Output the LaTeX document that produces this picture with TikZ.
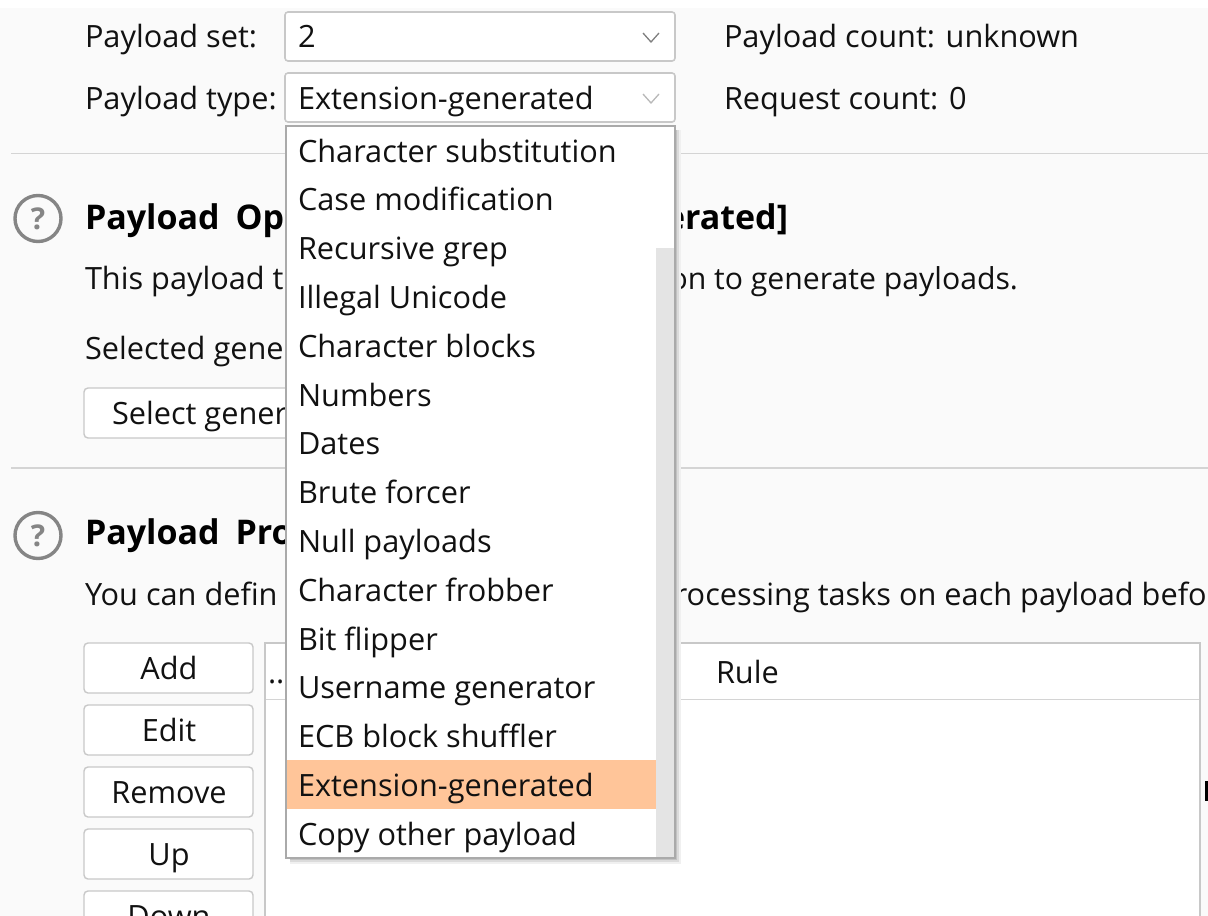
\documentclass[tikz,border=0pt]{standalone}
\usepackage{fontspec}
\setmainfont{Open Sans}
\definecolor{pagebg}{HTML}{FAFAFA}
\definecolor{edge}{HTML}{C8C8C8}
\definecolor{sep}{HTML}{D4D4D4}
\definecolor{bar}{HTML}{E4E4E4}
\definecolor{hilite}{HTML}{FFC599}
\definecolor{ink}{HTML}{111111}
\definecolor{helpgray}{HTML}{858585}
\tikzset{
  x=1pt,y=-1pt,
  lbl/.style={anchor=base west,inner sep=0pt,outer sep=0pt,text=ink,font=\fontsize{30.7}{36}\selectfont},
  lblr/.style={lbl,anchor=base east},
  lblc/.style={lbl,anchor=base},
  head/.style={lbl,text=black,font=\fontsize{34}{38}\selectfont\bfseries},
  headr/.style={head,anchor=base east},
  combo/.style={draw=edge,line width=1.6pt,rounded corners=3pt,fill=white},
  btn/.style={draw=edge,line width=1.4pt,rounded corners=4pt,fill=white},
  rule/.style={draw=sep,line width=1.4pt},
  chev/.style={draw=#1,line width=1.3pt},
  helpc/.style={circle,draw=helpgray,line width=3.4pt,minimum size=46pt,inner sep=0pt,fill=none,text=helpgray,font=\fontsize{30}{32}\selectfont\bfseries},
}
\begin{document}
\begin{tikzpicture}
\useasboundingbox (0,0) rectangle (1208,916);
\clip (0,0) rectangle (1208,916);
\fill[white] (0,0) rectangle (1208,916);
\fill[pagebg] (0,8) rectangle (1208,916);
% top rows
\node[lbl] (setlabel) at (85,47) {Payload set:};
\node[lbl] (typelabel) at (85,109) {Payload type:};
\draw[combo] (285,12) rectangle (675,61);
\draw[combo] (285,73) rectangle (675,122);
\node[lbl] (setval) at (298,47) {2};
\node[lbl] (typeval) at (298,109) {Extension-generated};
\draw[chev=gray] (643,33) -- (651,42) -- (659,33);
\draw[chev=edge!80!gray] (643,94) -- (651,103) -- (659,94);
\node[lbl] (pcount) at (724,47) {Payload count: unknown};
\node[lbl] (rcount) at (724,109) {Request count: 0};
% separators
\draw[rule] (11,153.5) -- (1208,153.5);
\draw[rule] (11,468) -- (1208,468);
% options section
\node[helpc] (help1) at (38,218.5) {?};
\node[head] (opt1) at (85,229) {Payload\kern7pt{} Op};
\node[headr] (opt2) at (788,229) {erated]};
\node[lbl] (desc1) at (85,289) {This payload t};
\node[lblr,font=\fontsize{30.2}{36}\selectfont] (desc2) at (1018,289) {on to generate payloads.};
\node[lbl] (sel1) at (85,359) {Selected gene};
\draw[btn] (84,388) rectangle (300,438);
\node[lbl] (sel2) at (112,424) {Select gener};
% processing section
\node[helpc] (help2) at (38,535.5) {?};
\node[head] (proc1) at (85,544) {Payload\kern7pt{} Pro};
\node[lbl] (you1) at (85,605) {You can defin};
\node[lbl] (you2) at (656,605) {processing tasks on each payload befo};
% buttons
\foreach \t/\n/\y in {Add/add/643,Edit/edit/705,Remove/remove/767,Up/up/829,Down/down/891}{
  \draw[btn] (84,\y) rectangle (253,\y+50);
  \node[lblc] (\n) at (169,\y+36) {\t};
}
% table
\fill[white] (265,643) rectangle (1200,930);
\draw[sep,line width=1pt] (265,699.5) -- (1200,699.5);
\draw[edge,line width=1.6pt] (265,930) -- (265,643) -- (1200,643) -- (1200,930);
\node[lbl] (dots) at (268,683) {..};
\node[lbl] (rulehead) at (716,683) {Rule};
\fill[black] (1205,781) rectangle (1208,801);
% dropdown
\fill[black!6] (290,130) rectangle (681,864);
\fill[black!14] (290,130) rectangle (679,862);
\fill[black!24] (290,130) rectangle (677,860);
\fill[white] (286,126) rectangle (675,858);
\fill[bar] (656,248) rectangle (675,858);
\fill[hilite] (286,760) rectangle (656,809);
\draw[edge!85!black,line width=1.4pt] (286,126) rectangle (675,858);
\foreach \t/\n/\i in {Character substitution/m0/0,Case modification/m1/1,Recursive grep/m2/2,Illegal Unicode/m3/3,Character blocks/m4/4,Numbers/m5/5,Dates/m6/6,Brute forcer/m7/7,Null payloads/m8/8,Character frobber/m9/9,Bit flipper/m10/10,Username generator/m11/11,ECB block shuffler/m12/12,Extension-generated/m13/13,Copy other payload/m14/14}{
  \node[lbl] (\n) at (298,162+48.8*\i) {\t};
}
\end{tikzpicture}
\end{document}
